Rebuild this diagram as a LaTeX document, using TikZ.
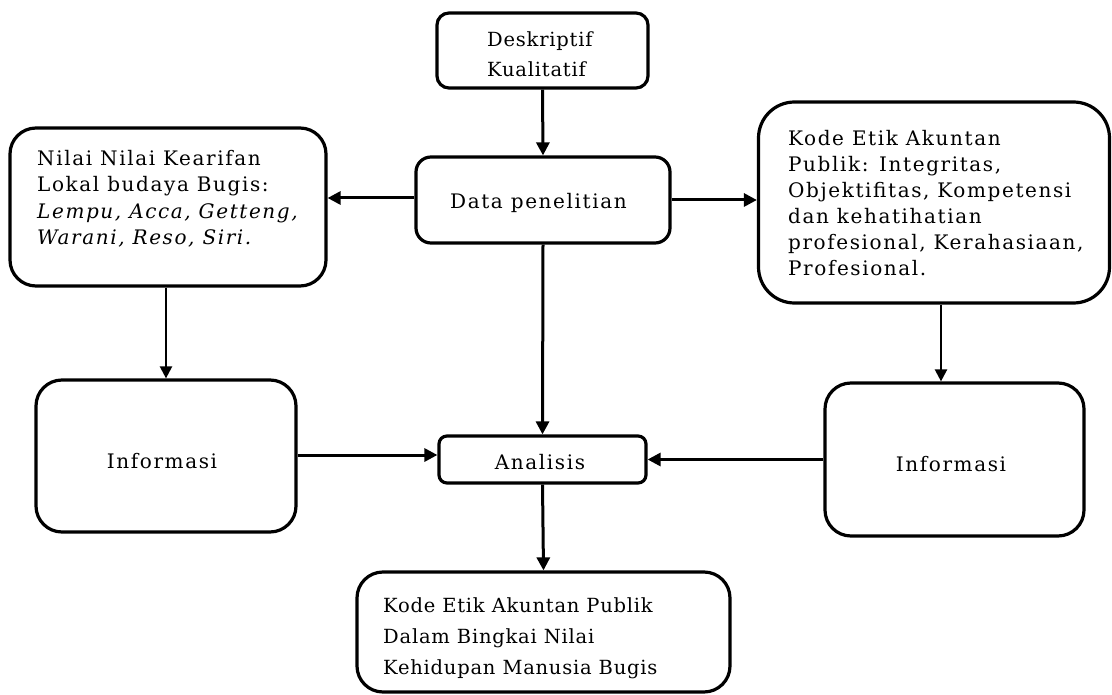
\documentclass[tikz,border=0pt]{standalone}
\usepackage{fontspec}
\setmainfont{DejaVu Serif}[LetterSpace=8]
\newfontfamily\narrowserif{DejaVu Serif}[LetterSpace=4]
\usetikzlibrary{arrows.meta,calc}
\begin{document}
\begin{tikzpicture}[x=1pt,y=-1pt,
  box/.style={draw=black,line width=3.2pt,inner sep=0pt,fill=white},
  txt/.style={inner sep=0pt,align=left,font=\fontsize{20}{26.5}\selectfont},
  arr/.style={line width=3pt,-{Triangle[length=13pt,width=13pt]}},
  thinarr/.style={line width=2.3pt,-{Triangle[length=12pt,width=12pt]}}]
\useasboundingbox (0,0) rectangle (1112,695);
% boxes
\node[box,rounded corners=12pt,minimum width=211pt,minimum height=75pt] (desk) at (542.5,50.5) {};
\node[box,rounded corners=15pt,minimum width=254pt,minimum height=86pt] (data) at (543,200) {};
\node[box,rounded corners=26pt,minimum width=316pt,minimum height=158pt] (nilai) at (168,207) {};
\node[box,rounded corners=36pt,minimum width=351pt,minimum height=201pt] (kode) at (934,202.5) {};
\node[box,rounded corners=26pt,minimum width=260pt,minimum height=152pt] (infoL) at (166,456) {};
\node[box,rounded corners=26pt,minimum width=259pt,minimum height=153pt] (infoR) at (954.5,459.5) {};
\node[box,rounded corners=8pt,minimum width=207pt,minimum height=47pt] (anal) at (542.5,459.5) {};
\node[box,rounded corners=26pt,minimum width=373pt,minimum height=120pt] (final) at (543.5,632) {};
% texts
\node[txt,anchor=west,font=\narrowserif\fontsize{19.5}{30}\selectfont] (tdesk) at (487,54) {Deskriptif\\Kualitatif};
\node[txt,anchor=west] (tdata) at (450,203) {Data penelitian};
\node[txt,anchor=west] (tnilai) at (37,199) {Nilai Nilai Kearifan\\Lokal budaya Bugis:\\\textit{Lempu, Acca, Getteng,}\\\textit{Warani, Reso, Siri.}};
\node[txt,anchor=west,font=\fontsize{20}{26}\selectfont] (tkode) at (788,203) {Kode Etik Akuntan\\Publik: Integritas,\\Objektifitas, Kompetensi\\dan kehatihatian\\profesional, Kerahasiaan,\\Profesional.};
\node[txt] (tinfoL) at (162,461) {Informasi};
\node[txt] (tinfoR) at (951,464) {Informasi};
\node[txt] (tanal) at (540,462) {Analisis};
\node[txt,anchor=west,font=\narrowserif\fontsize{19.5}{31}\selectfont] (tfinal) at (383,638) {Kode Etik Akuntan Publik\\Dalam Bingkai Nilai\\Kehidupan Manusia Bugis};
% connectors
\draw[arr] (desk.south) -- (data.north);
\draw[arr] ([yshift=2pt]data.west) -- ([yshift=2pt]data.west -| nilai.east);
\draw[arr] (data.east) -- (data.east -| kode.west);
\draw[thinarr] (nilai.south -| infoL.north) -- (infoL.north);
\draw[arr] (data.south) -- (anal.north);
\draw[arr] ([yshift=1pt]infoL.east) -- ([yshift=1pt]infoL.east -| anal.west);
\draw[arr] (infoR.west) -- (anal.east);
\draw[thinarr] ([xshift=7pt]kode.south) -- ([xshift=7pt]kode.south |- infoR.north);
\draw[arr] (anal.south) -- (final.north);
\end{tikzpicture}
\end{document}
